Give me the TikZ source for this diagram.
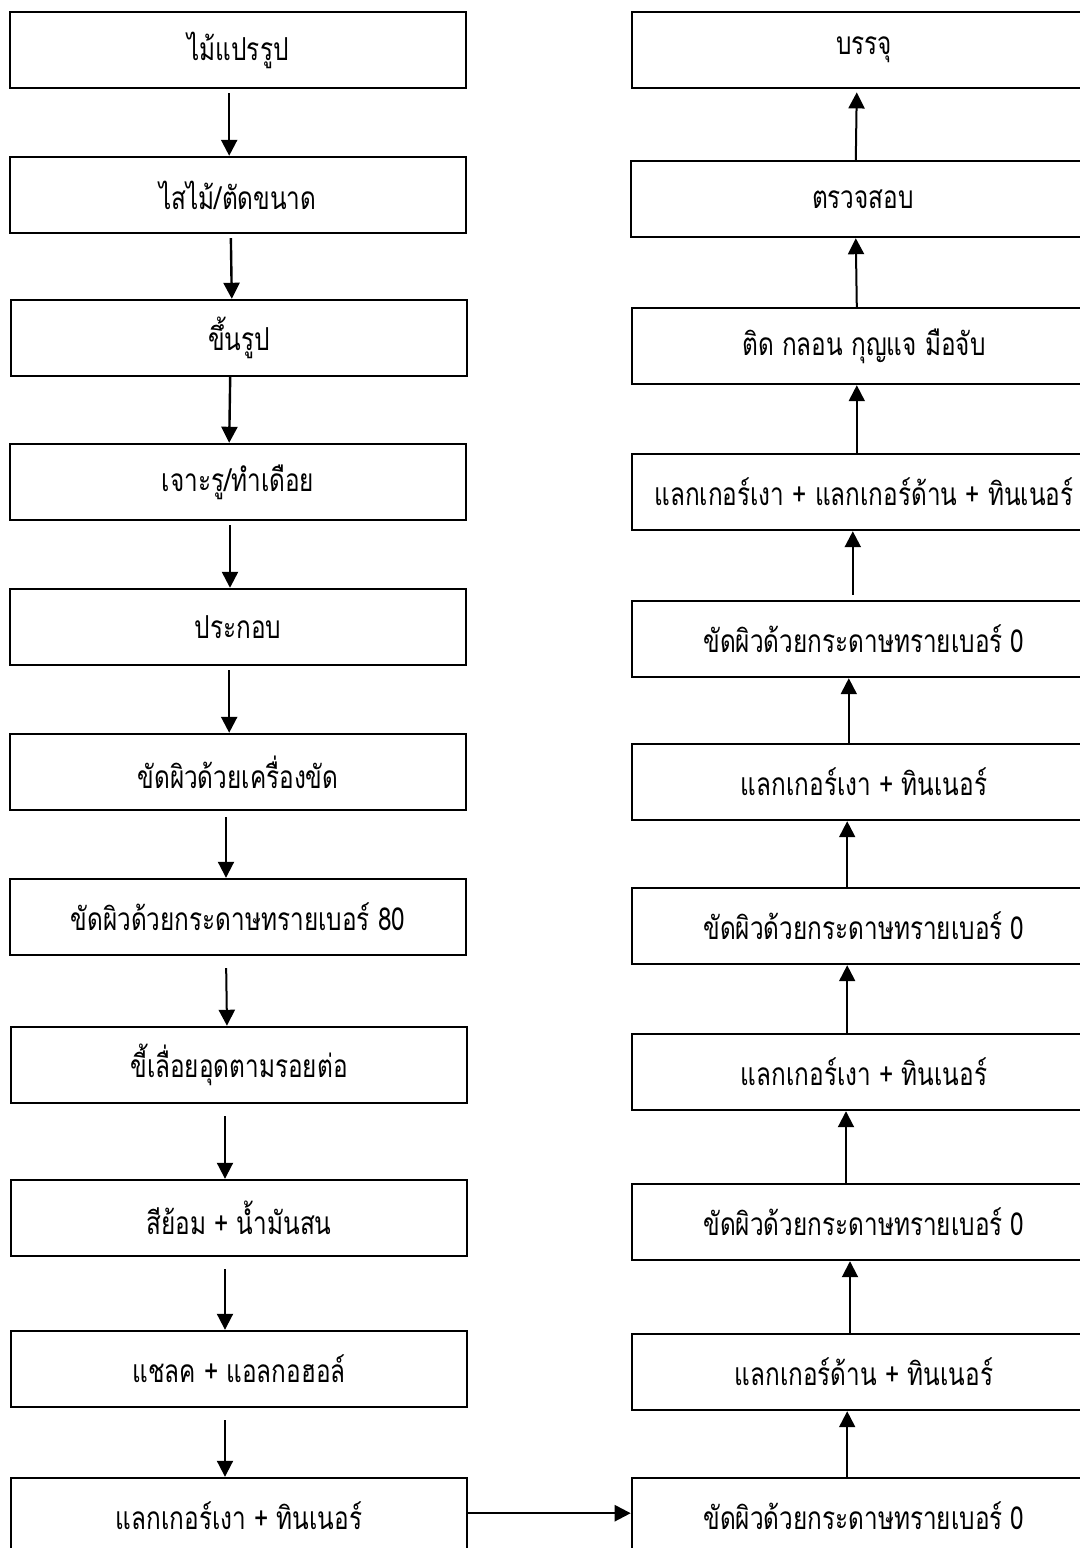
\documentclass[tikz,border=0pt]{standalone}
\usepackage{fontspec}
\newfontfamily\thaifont[Script=Thai,FakeStretch=0.77]{Loma}
\usetikzlibrary{arrows.meta}

\begin{document}
\begin{tikzpicture}[x=0.025cm,y=-0.025cm,line width=0.06cm,
  stepbox/.style={draw,rectangle,minimum width=11.4cm,minimum height=1.9cm,
    inner sep=0pt,font=\thaifont\fontsize{22.5}{26}\selectfont},
  widebox/.style={stepbox,minimum width=11.6cm},
  flow/.style={-{Triangle[width=0.4cm,length=0.4cm]}}]

  \useasboundingbox (0,0) rectangle (1080,1548);

  % left column, going down
  \node[stepbox] at (238,50) (p1) {ไม้แปรรูป};
  \node[stepbox] at (238,195) (p2) {ไสไม้/ตัดขนาด};
  \node[stepbox] at (239,338) (p3) {ขึ้นรูป};
  \node[stepbox] at (238,482) (p4) {เจาะรู/ทำเดือย};
  \node[stepbox] at (238,627) (p5) {ประกอบ};
  \node[stepbox] at (238,772) (p6) {ขัดผิวด้วยเครื่องขัด};
  \node[stepbox] at (238,917) (p7) {ขัดผิวด้วยกระดาษทรายเบอร์ 80};
  \node[stepbox] at (239,1065) (p8) {ขี้เลื่อยอุดตามรอยต่อ};
  \node[stepbox] at (239,1218) (p9) {สีย้อม + น้ำมันสน};
  \node[stepbox] at (239,1369) (p10) {แชลค + แอลกอฮอล์};
  \node[stepbox] at (239,1516) (p11) {แลกเกอร์เงา + ทินเนอร์};

  \draw[flow,shorten <=0.1cm] ([xshift=-0.22cm]p1.south) -- ([xshift=-0.22cm]p2.north);
  \draw[flow,shorten <=0.1cm] ([xshift=-0.18cm]p2.south) -- ([xshift=-0.18cm]p3.north);
  \draw[flow] ([xshift=-0.22cm]p3.south) -- ([xshift=-0.22cm]p4.north);
  \draw[flow,shorten <=0.1cm] ([xshift=-0.2cm]p4.south) -- ([xshift=-0.2cm]p5.north);
  \draw[flow,shorten <=0.1cm] ([xshift=-0.22cm]p5.south) -- ([xshift=-0.22cm]p6.north);
  \draw[flow,shorten <=0.15cm,line width=0.05cm] ([xshift=-0.3cm]p6.south) -- ([xshift=-0.3cm]p7.north);
  \draw[flow,shorten <=0.3cm,line width=0.05cm] ([xshift=-0.3cm]p7.south) -- ([xshift=-0.3cm]p8.north);
  \draw[flow,shorten <=0.3cm,line width=0.05cm] ([xshift=-0.35cm]p8.south) -- ([xshift=-0.35cm]p9.north);
  \draw[flow,shorten <=0.3cm,line width=0.05cm] ([xshift=-0.35cm]p9.south) -- ([xshift=-0.35cm]p10.north);
  \draw[flow,shorten <=0.3cm,line width=0.05cm] ([xshift=-0.35cm]p10.south) -- ([xshift=-0.35cm]p11.north);

  % right column, going up
  \node[widebox] at (864,50) (q1) {บรรจุ};
  \node[widebox] at (863,199) (q2) {ตรวจสอบ};
  \node[widebox] at (864,346) (q3) {ติด กลอน กุญแจ มือจับ};
  \node[widebox] at (864,492) (q4) {แลกเกอร์เงา + แลกเกอร์ด้าน + ทินเนอร์};
  \node[widebox] at (864,639) (q5) {ขัดผิวด้วยกระดาษทรายเบอร์ 0};
  \node[widebox] at (864,782) (q6) {แลกเกอร์เงา + ทินเนอร์};
  \node[widebox] at (864,926) (q7) {ขัดผิวด้วยกระดาษทรายเบอร์ 0};
  \node[widebox] at (864,1072) (q8) {แลกเกอร์เงา + ทินเนอร์};
  \node[widebox] at (864,1222) (q9) {ขัดผิวด้วยกระดาษทรายเบอร์ 0};
  \node[widebox] at (864,1372) (q10) {แลกเกอร์ด้าน + ทินเนอร์};
  \node[widebox] at (864,1516) (q11) {ขัดผิวด้วยกระดาษทรายเบอร์ 0};

  \draw[flow,shorten >=0.08cm,line width=0.05cm] ([xshift=-0.18cm]q2.north) -- ([xshift=-0.18cm]q1.south);
  \draw[flow,line width=0.05cm] ([xshift=-0.18cm]q3.north) -- ([xshift=-0.18cm]q2.south);
  \draw[flow,line width=0.05cm] ([xshift=-0.18cm]q4.north) -- ([xshift=-0.18cm]q3.south);
  \draw[flow,shorten <=0.12cm] ([xshift=-0.28cm]q5.north) -- ([xshift=-0.28cm]q4.south);
  \draw[flow,line width=0.05cm] ([xshift=-0.38cm]q6.north) -- ([xshift=-0.38cm]q5.south);
  \draw[flow,line width=0.05cm] ([xshift=-0.42cm]q7.north) -- ([xshift=-0.42cm]q6.south);
  \draw[flow,line width=0.05cm] ([xshift=-0.42cm]q8.north) -- ([xshift=-0.42cm]q7.south);
  \draw[flow,line width=0.05cm] ([xshift=-0.45cm]q9.north) -- ([xshift=-0.45cm]q8.south);
  \draw[flow,line width=0.05cm] ([xshift=-0.35cm]q10.north) -- ([xshift=-0.35cm]q9.south);
  \draw[flow,line width=0.05cm] ([xshift=-0.42cm]q11.north) -- ([xshift=-0.42cm]q10.south);

  % across the bottom
  \draw[flow] ([yshift=0.07cm]p11.east) -- ([yshift=0.07cm]q11.west);

\end{tikzpicture}
\end{document}
